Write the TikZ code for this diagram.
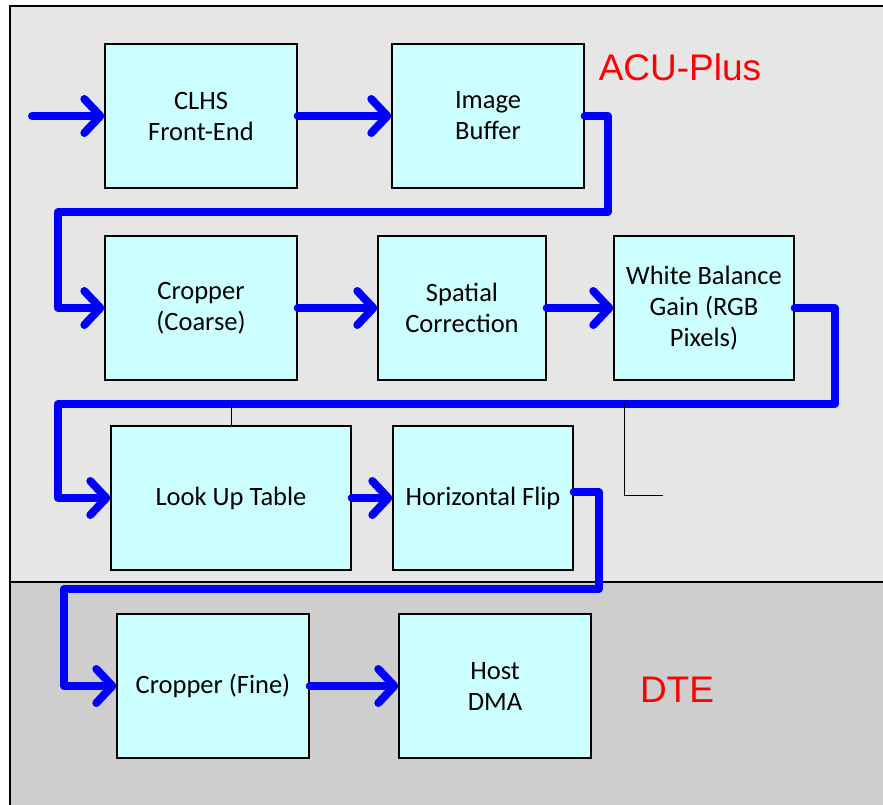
\documentclass[tikz,border=0pt]{standalone}
\usepackage{fontspec}
\setmainfont{Carlito}
\newfontfamily\labelfont{Liberation Sans}
\usetikzlibrary{arrows.meta}
\definecolor{acubg}{HTML}{E6E6E6}
\definecolor{dtebg}{HTML}{CECECE}
\definecolor{blkfill}{HTML}{CCFFFF}
\tikzset{
  blk/.style={draw=black, line width=1.4pt, fill=blkfill, align=center,
    minimum width=192pt, minimum height=144pt, inner sep=0pt,
    font=\fontsize{26.5}{31}\selectfont},
  flow/.style={draw=blue, line width=8pt, line cap=round, line join=round,
    -{Straight Barb[length=16pt, width=34pt, round]}},
  wire/.style={draw=black, line width=0.8pt},
  region/.style={font=\labelfont\fontsize{37}{42}\selectfont, text=red}
}
\begin{document}
\begin{tikzpicture}[x=1pt, y=-1pt]
    \useasboundingbox (0,0) rectangle (883,804);
    \filldraw[fill=acubg, draw=black, line width=1.2pt] (10,6) rectangle (895,582);
    \filldraw[fill=dtebg, draw=black, line width=1.2pt] (10,582) rectangle (895,815);
    \node[region] (acu) at (680,67) {ACU-Plus};
    \node[region] (dte) at (677,690) {DTE};
    % first row
    \node[blk] (clhs) at (201,116) {CLHS\\Front-End};
    \node[blk] (buf) at (488,116) {Image\\Buffer};
    % second row
    \node[blk] (crc) at (201,308) {Cropper\\(Coarse)};
    \node[blk, minimum width=168pt] (spc) at (462,308) {Spatial\\Correction};
    \node[blk, minimum width=180pt] (wbg) at (704,308) {White Balance\\Gain (RGB\\Pixels)};
    % third row
    \node[blk, minimum width=240pt] (lut) at (231,498) {Look Up Table};
    \node[blk, minimum width=180pt] (hfl) at (483,498) {Horizontal Flip};
    % DTE row
    \node[blk] (crf) at (213,686) {Cropper (Fine)};
    \node[blk] (dma) at (495,686) {Host\\DMA};
    \coordinate (in) at (32,116);
    \coordinate (t1) at (58,212); \coordinate (t2) at (58,404);
    \coordinate (t3) at (64,589);
    \draw[flow] (in) -- (clhs.west);
    \draw[flow] (clhs.east) -- (buf.west);
    \draw[flow] (buf.east) -- ++(23,0) |- (t1) |- (crc.west);
    \draw[flow] (crc.east) -- (spc.west);
    \draw[flow] (spc.east) -- (wbg.west);
    \draw[flow] (wbg.east) -- ++(40,0) |- (t2) |- (lut.west);
    \draw[flow] (lut.east) -- (hfl.west);
    \draw[flow] (hfl.east) ++(0,-6) -- ++(25,0) |- (t3) |- (crf.west);
    \draw[flow] (crf.east) -- (dma.west);
    \coordinate (stub) at (663,495);
    \draw[wire] (lut.north) |- (624,403) |- (stub);
\end{tikzpicture}
\end{document}
